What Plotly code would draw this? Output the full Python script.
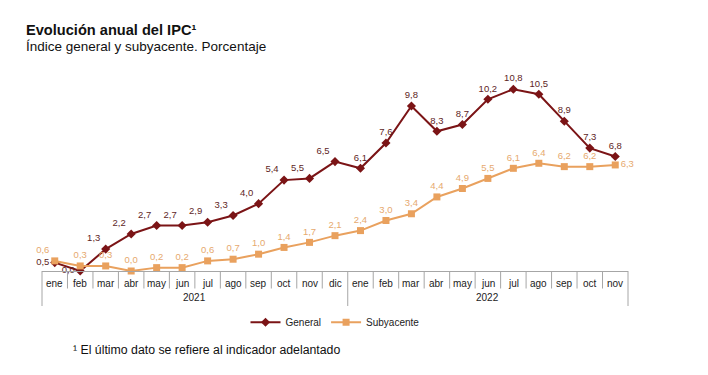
import plotly.graph_objects as go

months = ["ene", "feb", "mar", "abr", "may", "jun", "jul", "ago", "sep", "oct", "nov", "dic",
          "ene", "feb", "mar", "abr", "may", "jun", "jul", "ago", "sep", "oct", "nov"]
years = ["2021"] * 12 + ["2022"] * 11
general = [0.5, 0.0, 1.3, 2.2, 2.7, 2.7, 2.9, 3.3, 4.0, 5.4, 5.5, 6.5,
           6.1, 7.6, 9.8, 8.3, 8.7, 10.2, 10.8, 10.5, 8.9, 7.3, 6.8]
subyacente = [0.6, 0.3, 0.3, 0.0, 0.2, 0.2, 0.6, 0.7, 1.0, 1.4, 1.7, 2.1,
              2.4, 3.0, 3.4, 4.4, 4.9, 5.5, 6.1, 6.4, 6.2, 6.2, 6.3]

idx = list(range(len(months)))
fmt = lambda v: f"{v:.1f}".replace(".", ",")

C_GEN = "#7B1416"
C_SUB = "#E9A15E"
C_GRID = "#A6A6A6"
FONT = "Liberation Sans, Arial, sans-serif"

gen_pos = ["middle left", "middle left"] + ["top left"] * 10 + ["top center"] * 11
sub_pos = ["top left"] + ["top center"] * 21 + ["middle right"]

fig = go.Figure()
fig.add_trace(go.Scatter(
    x=idx, y=general, name="General", mode="lines+markers+text",
    line=dict(color=C_GEN, width=2), marker=dict(symbol="diamond", size=7, color=C_GEN),
    text=[fmt(v) for v in general], textposition=gen_pos,
    textfont=dict(family=FONT, size=9.5, color="#5E1E1E"), cliponaxis=False))
fig.add_trace(go.Scatter(
    x=idx, y=subyacente, name="Subyacente", mode="lines+markers+text",
    line=dict(color=C_SUB, width=2), marker=dict(symbol="square", size=7, color=C_SUB),
    text=[fmt(v) for v in subyacente], textposition=sub_pos,
    textfont=dict(family=FONT, size=9.5, color="#E6A96E"), cliponaxis=False))

shapes = []
for i in idx[:-1]:
    full = years[i] != years[i + 1]
    shapes.append(dict(type="line", xref="x", yref="paper", ysizemode="pixel", yanchor=0,
                       x0=i + 0.5, x1=i + 0.5, y0=0, y1=-35 if full else -17.5,
                       line=dict(color=C_GRID, width=1)))
for xe in (0, 1):
    shapes.append(dict(type="line", xref="x domain", yref="paper", ysizemode="pixel", yanchor=0,
                       x0=xe, x1=xe, y0=0, y1=-35, line=dict(color=C_GRID, width=1)))

annotations = []
for i, m in enumerate(months):
    annotations.append(dict(x=i, y=0, xref="x", yref="paper", yshift=-12.5, text=m,
                            showarrow=False, yanchor="middle",
                            font=dict(family=FONT, size=10, color="#222")))
for yr in sorted(set(years)):
    ii = [i for i, y in enumerate(years) if y == yr]
    annotations.append(dict(x=sum(ii) / len(ii), y=0, xref="x", yref="paper", yshift=-26.5,
                            text=yr, showarrow=False, yanchor="middle",
                            font=dict(family=FONT, size=10, color="#222")))

# page offset (body margin) compensation
OFF = 8
W, H = 708 - OFF, 375 - OFF
L, R, T, B = 42.2 - OFF, 628.3 - OFF, 68.7 - OFF, 271.5 - OFF
pw, ph = R - L, B - T
def px(x): return (x - OFF - L) / pw
def py(y): return (B - (y - OFF)) / ph

annotations.append(dict(x=px(24), y=py(30), xref="paper", yref="paper",
                        text="<b>Evolución anual del IPC¹</b>",
                        showarrow=False, xanchor="left", yanchor="middle",
                        font=dict(family=FONT, size=14.6, color="#111")))
annotations.append(dict(x=px(24), y=py(46), text="Índice general y subyacente. Porcentaje",
                        showarrow=False, xref="paper", yref="paper", xanchor="left", yanchor="middle",
                        font=dict(family=FONT, size=13.5, color="#111")))
annotations.append(dict(x=px(71), y=py(351), text="¹ El último dato se refiere al indicador adelantado",
                        showarrow=False, xref="paper", yref="paper", xanchor="left", yanchor="middle",
                        font=dict(family=FONT, size=12.3, color="#111")))

fig.update_layout(
    width=W, height=H, margin=dict(l=L, r=W - R, t=T, b=H - B),
    paper_bgcolor="white", plot_bgcolor="white",
    showlegend=True,
    legend=dict(orientation="h", x=0.5, xanchor="center", y=py(323), yanchor="middle",
                font=dict(family=FONT, size=10, color="#222"), itemwidth=30),
    xaxis=dict(range=[-0.5, len(months) - 0.5], showgrid=False, zeroline=False,
               showticklabels=False, ticks="", showline=True, linecolor=C_GRID, linewidth=1),
    yaxis=dict(range=[0, 12], visible=False, showgrid=False, zeroline=False),
    shapes=shapes, annotations=annotations,
)

fig.write_html("out.html")
